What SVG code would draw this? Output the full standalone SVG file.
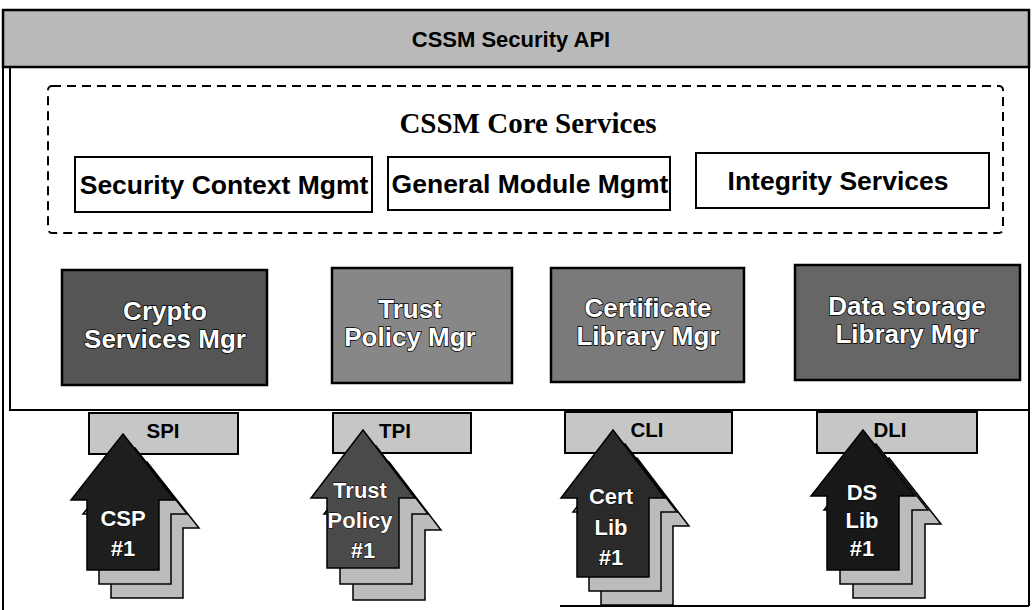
<svg xmlns="http://www.w3.org/2000/svg" width="1032" height="610" viewBox="0 0 1032 610">
<style>
 .frame{fill:none;stroke:#000;stroke-width:2}
 .api{fill:#b9b9b9;stroke:#000;stroke-width:2.5}
 .t-api{font-family:"Liberation Sans",Arial,sans-serif;font-weight:bold;font-size:22px;fill:#000;text-anchor:middle}
 .core{fill:none;stroke:#000;stroke-width:2;stroke-dasharray:9 6}
 .t-core{font-family:"Liberation Serif","Times New Roman",serif;font-weight:bold;font-size:29px;fill:#000;text-anchor:middle}
 .svc{fill:#fff;stroke:#000;stroke-width:2}
 .t-svc{font-family:"Liberation Sans",Arial,sans-serif;font-weight:bold;font-size:26.5px;fill:#000;text-anchor:middle}
 .mgr{stroke:#000;stroke-width:2.5}
 .t-mgr{font-family:"Liberation Sans",Arial,sans-serif;font-weight:bold;font-size:26px;fill:#fff;stroke:#000;stroke-width:1.5;paint-order:stroke;text-anchor:middle}
 .ifc{fill:#c6c6c6;stroke:#000;stroke-width:2}
 .t-ifc{font-family:"Liberation Sans",Arial,sans-serif;font-weight:bold;font-size:20.5px;fill:#000;text-anchor:middle}
 .back{fill:#bcbcbc;stroke:#000;stroke-width:1.5}
 .front{stroke:#000;stroke-width:1.5}
 .t-arr{font-family:"Liberation Sans",Arial,sans-serif;font-weight:bold;font-size:22px;fill:#fff;stroke:#000;stroke-width:1;paint-order:stroke;text-anchor:middle}
</style>
<defs>
 <polygon id="arrCSP" points="123,434 175,500 159,500 159,570 87,570 87,500 71,500"/>
 <polygon id="arrTP" points="363,430 415,498 399,498 399,568 327,568 327,498 311,498"/>
 <polygon id="arrCL" points="613,430 665,498 649,498 649,577 577,577 577,498 561,498"/>
 <polygon id="arrDS" points="863,430 915,496 899,496 899,570 827,570 827,496 811,496"/>
</defs>

<g id="frame">
 <path class="frame" d="M3,610 V10 H1029 V606 M560,606 H1029"/>
 <rect class="frame" x="10" y="67" width="1019" height="343"/>
</g>

<g id="security-api">
 <rect class="api" x="3" y="10" width="1026" height="57"/>
 <text class="t-api" x="511" y="47">CSSM Security API</text>
</g>

<g id="core-services">
 <rect class="core" x="48" y="86" width="955" height="147" rx="4"/>
 <text class="t-core" x="528" y="133">CSSM Core Services</text>
</g>

<g id="security-context-mgmt">
 <rect class="svc" x="75" y="157" width="297" height="55"/>
 <text class="t-svc" x="224" y="194">Security Context Mgmt</text>
</g>
<g id="general-module-mgmt">
 <rect class="svc" x="388" y="157" width="282" height="53"/>
 <text class="t-svc" x="530" y="193">General Module Mgmt</text>
</g>
<g id="integrity-services">
 <rect class="svc" x="696" y="153" width="293" height="55"/>
 <text class="t-svc" x="838" y="190">Integrity Services</text>
</g>

<g id="crypto-services-mgr">
 <rect class="mgr" x="62" y="270" width="205" height="115" fill="#555"/>
 <text class="t-mgr" x="165" y="320">Crypto</text>
 <text class="t-mgr" x="165" y="348">Services Mgr</text>
</g>
<g id="trust-policy-mgr">
 <rect class="mgr" x="332" y="268" width="180" height="115" fill="#878787"/>
 <text class="t-mgr" x="410" y="318">Trust</text>
 <text class="t-mgr" x="410" y="346">Policy Mgr</text>
</g>
<g id="certificate-library-mgr">
 <rect class="mgr" x="551" y="268" width="193" height="114" fill="#7a7a7a"/>
 <text class="t-mgr" x="648" y="317">Certificate</text>
 <text class="t-mgr" x="648" y="345">Library Mgr</text>
</g>
<g id="data-storage-library-mgr">
 <rect class="mgr" x="795" y="265" width="225" height="115" fill="#666"/>
 <text class="t-mgr" x="907" y="315">Data storage</text>
 <text class="t-mgr" x="907" y="343">Library Mgr</text>
</g>

<g id="spi">
 <rect class="ifc" x="89" y="413" width="149" height="41"/>
 <text class="t-ifc" x="163" y="438">SPI</text>
</g>
<g id="tpi">
 <rect class="ifc" x="333" y="413" width="138" height="40"/>
 <text class="t-ifc" x="395" y="438">TPI</text>
</g>
<g id="cli">
 <rect class="ifc" x="565" y="412" width="167" height="41"/>
 <text class="t-ifc" x="647" y="437">CLI</text>
</g>
<g id="dli">
 <rect class="ifc" x="817" y="412" width="160" height="41"/>
 <text class="t-ifc" x="890" y="437">DLI</text>
</g>

<g id="csp-1">
 <use href="#arrCSP" class="back" transform="translate(24,28)"/>
 <use href="#arrCSP" class="back" transform="translate(12,14)"/>
 <use href="#arrCSP" class="front" fill="#1e1e1e"/>
 <text class="t-arr" x="123" y="526">CSP</text>
 <text class="t-arr" x="123" y="556">#1</text>
</g>
<g id="trust-policy-1">
 <use href="#arrTP" class="back" transform="translate(26,32)"/>
 <use href="#arrTP" class="back" transform="translate(13,16)"/>
 <use href="#arrTP" class="front" fill="#4a4a4a"/>
 <text class="t-arr" x="360" y="498">Trust</text>
 <text class="t-arr" x="360" y="528">Policy</text>
 <text class="t-arr" x="363" y="558">#1</text>
</g>
<g id="cert-lib-1">
 <use href="#arrCL" class="back" transform="translate(24,28)"/>
 <use href="#arrCL" class="back" transform="translate(12,14)"/>
 <use href="#arrCL" class="front" fill="#2a2a2a"/>
 <text class="t-arr" x="611" y="504">Cert</text>
 <text class="t-arr" x="611" y="535">Lib</text>
 <text class="t-arr" x="611" y="565">#1</text>
</g>
<g id="ds-lib-1">
 <use href="#arrDS" class="back" transform="translate(26,28)"/>
 <use href="#arrDS" class="back" transform="translate(13,14)"/>
 <use href="#arrDS" class="front" fill="#181818"/>
 <text class="t-arr" x="862" y="500">DS</text>
 <text class="t-arr" x="862" y="528">Lib</text>
 <text class="t-arr" x="862" y="556">#1</text>
</g>

<g id="connectors"></g>
</svg>
